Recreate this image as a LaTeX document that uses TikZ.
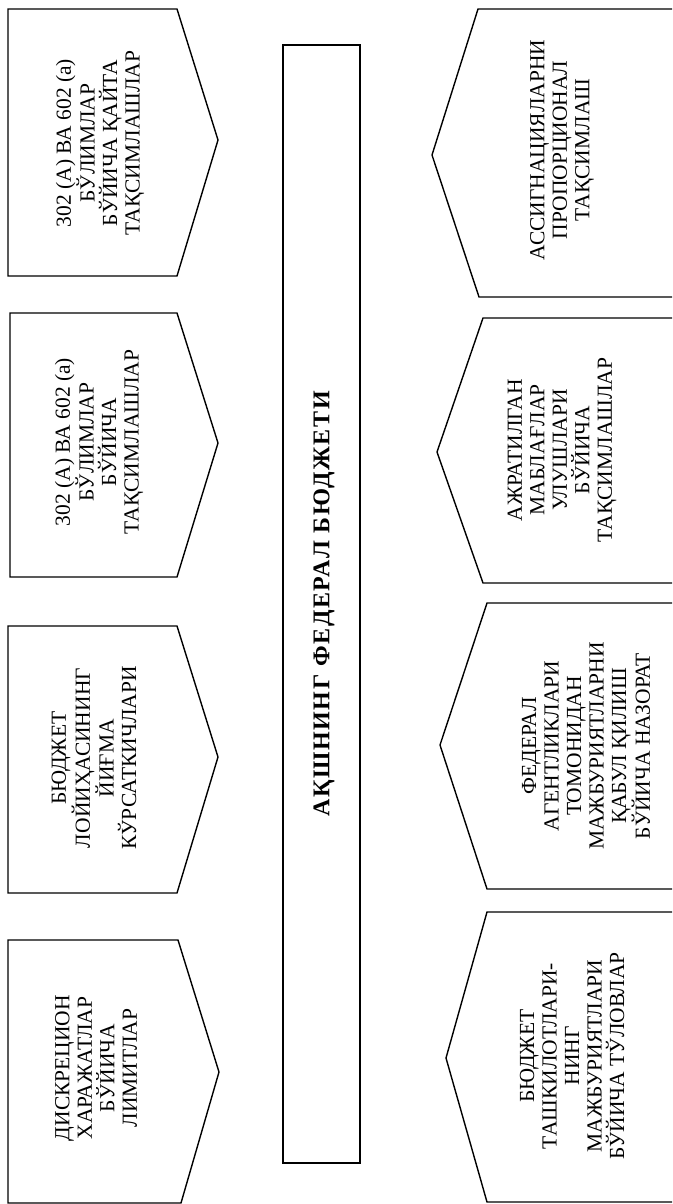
\documentclass[tikz,border=0pt]{standalone}
\usepackage{fontspec}
\setmainfont{Liberation Serif}

\begin{document}
\begin{tikzpicture}[
    x=1pt, y=-1pt,
    arrowbox/.style={draw, line width=1.4pt, line join=miter},
    lbl/.style={rotate=90, align=center, inner sep=0pt,
        font=\fontsize{21.5}{22.5}\selectfont},
]
\useasboundingbox (0,0) rectangle (672,1204);

% Centre column
\node[draw, line width=1.4pt, minimum width=77pt, minimum height=1118pt, inner sep=0pt] (budget) at (321.5,604) {};
\node[lbl, font=\fontsize{24}{26}\selectfont\bfseries\addfontfeatures{LetterSpace=7}] (budgettext) at (324,604) {АҚШНИНГ ФЕДЕРАЛ БЮДЖЕТИ};

% Left column, pointing to the centre
\draw[arrowbox] (8,9) -- (177,9) -- (218,140) -- (177,276) -- (8,276) -- cycle;
\node[lbl] (redistrib) at (100,143) {302 (А) ВА 602 (а)\\БЎЛИМЛАР\\БЎЙИЧА ҚАЙТА\\ТАҚСИМЛАШЛАР};

\draw[arrowbox] (10,313) -- (177,313) -- (218,443) -- (177,577) -- (10,577) -- cycle;
\node[lbl] (distrib) at (99,442) {302 (А) ВА 602 (а)\\БЎЛИМЛАР\\БЎЙИЧА\\ТАҚСИМЛАШЛАР};

\draw[arrowbox] (8,626) -- (177,626) -- (218,757) -- (177,893) -- (8,893) -- cycle;
\node[lbl] (totals) at (94,758) {БЮДЖЕТ\\ЛОЙИҲАСИНИНГ\\ЙИҒМА\\КЎРСАТКИЧЛАРИ};

\draw[arrowbox] (8,940) -- (178,940) -- (219,1072) -- (181,1203) -- (8,1203) -- cycle;
\node[lbl] (limits) at (96,1068) {ДИСКРЕЦИОН\\ХАРАЖАТЛАР\\БЎЙИЧА\\ЛИМИТЛАР};

% Right column, pointing to the centre (cut at the page edge)
\draw[arrowbox] (672,9) -- (478,9) -- (432,155) -- (479,297) -- (672,297);
\node[lbl] (propshare) at (562,150) {АССИГНАЦИЯЛАРНИ\\ПРОПОРЦИОНАЛ\\ТАҚСИМЛАШ};

\draw[arrowbox] (672,318) -- (483,318) -- (437,452) -- (483,583) -- (672,583);
\node[lbl] (shares) at (562,450) {АЖРАТИЛГАН\\МАБЛАҒЛАР\\УЛУШЛАРИ\\БЎЙИЧА\\ТАҚСИМЛАШЛАР};

\draw[arrowbox] (672,603) -- (487,603) -- (440,745) -- (487,889) -- (672,889);
\node[lbl] (control) at (586,746) {ФЕДЕРАЛ\\АГЕНТЛИКЛАРИ\\ТОМОНИДАН\\МАЖБУРИЯТЛАРНИ\\ҚАБУЛ ҚИЛИШ\\БЎЙИЧА НАЗОРАТ};

\draw[arrowbox] (672,912) -- (487,912) -- (446,1058) -- (487,1202) -- (672,1202);
\node[lbl] (payments) at (572,1056) {БЮДЖЕТ\\ТАШКИЛОТЛАРИ-\\НИНГ\\МАЖБУРИЯТЛАРИ\\БЎЙИЧА ТЎЛОВЛАР};

\end{tikzpicture}
\end{document}
